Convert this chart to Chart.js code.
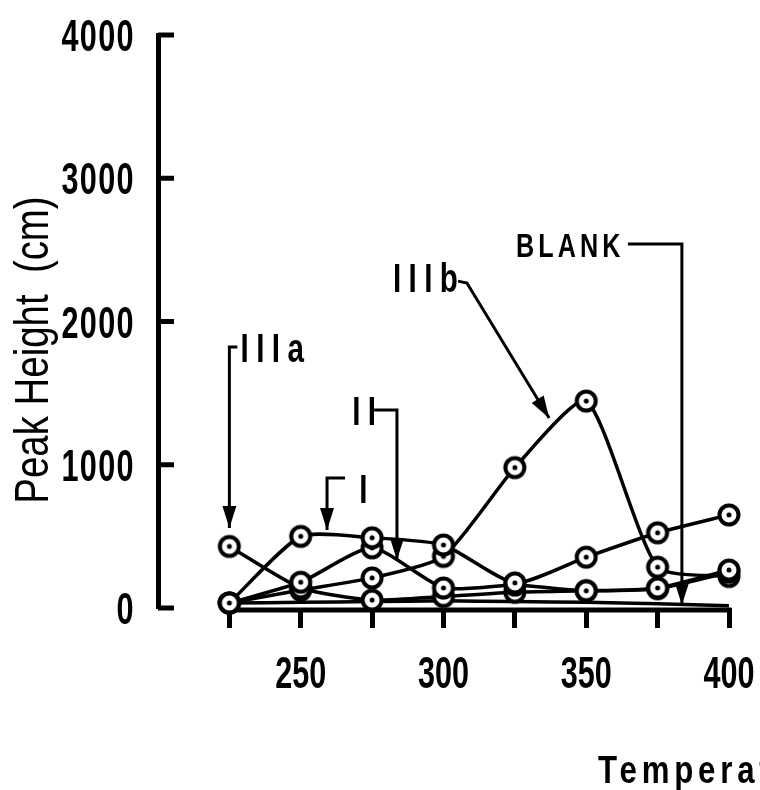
<!DOCTYPE html>
<html>
<head>
<meta charset="utf-8">
<script src="https://cdn.jsdelivr.net/npm/chart.js@4.4.1/dist/chart.umd.min.js"></script>
<style>
  html, body { margin: 0; padding: 0; background: #fff; }
  canvas { display: block; }
</style>
</head>
<body>
<canvas id="chart" width="760" height="790"></canvas>
<script>
// data
const temps = [225, 250, 275, 300, 325, 350, 375, 400];
const peakI = [35, 500, 490, 440, 175, 355, 525, 650];
const peakII = [35, 180, 420, 140, 160, 120, 140, 265];
const peakIIIa = [430, 140, 55, 80, 110, 120, 135, 250];
const peakIIIb = [35, 125, 210, 360, 980, 1445, 285, 220];
const peakBlank = [35, 40, 45, 50, 45, 40, 30, 15];
const yTicks = [0, 1000, 2000, 3000, 4000];
const xTickLabels = [250, 300, 350, 400];

const FONT = "'Liberation Sans', Arial, sans-serif";

// label + arrow callouts, in data units
const callouts = [
  { text: 'IIIa', at: [228.9, 1717], path: [[227.8, 1822], [225, 1822], [225, 558]] },
  { text: 'I', at: [270.5, 733], path: [[265.5, 907], [259.2, 907], [259.2, 545]] },
  { text: 'II', at: [268, 1277], path: [[275.7, 1382], [283.7, 1382], [283.7, 335]] },
  { text: 'IIIb', at: [282.3, 2206], path: [[305.1, 2282], [308.2, 2269], [337, 1326]] },
  { text: 'BLANK', at: [325.4, 2450], path: [[364.6, 2541], [383.5, 2541], [383.5, 21]] }
];

// circle with a dot in the middle
function makeMarker() {
  const c = document.createElement('canvas');
  c.width = 28; c.height = 28;
  const g = c.getContext('2d');
  g.beginPath();
  g.arc(14, 14, 9.5, 0, Math.PI * 2);
  g.fillStyle = '#fff';
  g.fill();
  g.lineWidth = 4;
  g.strokeStyle = '#000';
  g.stroke();
  g.beginPath();
  g.arc(14, 14, 2.5, 0, Math.PI * 2);
  g.fillStyle = '#000';
  g.fill();
  return c;
}
const marker = makeMarker();

function toPoints(values) {
  return temps.map((t, i) => ({ x: t, y: values[i] }));
}

function series(label, values, withMarkers) {
  return {
    label: label,
    data: toPoints(values),
    borderColor: '#000',
    borderWidth: 3.5,
    tension: 0.2,
    pointStyle: withMarkers ? marker : false,
    pointRadius: withMarkers ? 11 : 0,
    clip: false
  };
}

// condensed text: squeeze the glyphs horizontally
function squeezed(ctx, text, px, py, font, sx, spacing, align) {
  ctx.save();
  ctx.translate(px, py);
  ctx.scale(sx, 1);
  ctx.font = font;
  ctx.letterSpacing = spacing + 'px';
  ctx.textAlign = align || 'left';
  ctx.textBaseline = 'alphabetic';
  ctx.fillText(text, 0, 0);
  ctx.restore();
}

function drawArrow(ctx, pts) {
  ctx.beginPath();
  ctx.moveTo(pts[0][0], pts[0][1]);
  for (let i = 1; i < pts.length; i++) ctx.lineTo(pts[i][0], pts[i][1]);
  ctx.stroke();
  const [x1, y1] = pts[pts.length - 2];
  const [x2, y2] = pts[pts.length - 1];
  const a = Math.atan2(y2 - y1, x2 - x1);
  const len = 22, half = 7;
  ctx.beginPath();
  ctx.moveTo(x2, y2);
  ctx.lineTo(x2 - len * Math.cos(a) + half * Math.sin(a), y2 - len * Math.sin(a) - half * Math.cos(a));
  ctx.lineTo(x2 - len * Math.cos(a) - half * Math.sin(a), y2 - len * Math.sin(a) + half * Math.cos(a));
  ctx.closePath();
  ctx.fill();
}

const decorations = {
  id: 'decorations',
  beforeDatasetsDraw(chart) {
    const { ctx, chartArea, scales: { x, y } } = chart;
    ctx.save();
    ctx.strokeStyle = '#000';
    ctx.lineWidth = 5;
    // x axis base line, only over the measured range
    ctx.beginPath();
    ctx.moveTo(x.getPixelForValue(temps[0]) - 2.5, chartArea.bottom + 2);
    ctx.lineTo(x.getPixelForValue(temps[temps.length - 1]) + 2.5, chartArea.bottom + 2);
    ctx.stroke();
    // y ticks point inwards
    yTicks.forEach(v => {
      const py = y.getPixelForValue(v);
      ctx.beginPath();
      ctx.moveTo(chartArea.left, py);
      ctx.lineTo(chartArea.left + 16, py);
      ctx.stroke();
    });
    ctx.restore();
  },
  afterDraw(chart) {
    const { ctx, chartArea, scales: { x, y } } = chart;
    ctx.save();
    ctx.fillStyle = '#000';
    ctx.strokeStyle = '#000';
    ctx.lineWidth = 3;

    // tick labels (condensed bold), placed by the scales
    const tickFont = 'bold 45px ' + FONT;
    y.ticks.forEach(t => {
      squeezed(ctx, String(t.value), chartArea.left - 23, y.getPixelForValue(t.value) + 16, tickFont, 0.68, 2, 'right');
    });
    x.ticks.forEach(t => {
      if (!xTickLabels.includes(t.value)) return;
      squeezed(ctx, String(t.value), x.getPixelForValue(t.value), chartArea.bottom + 80, tickFont, 0.68, 0, 'center');
    });

    callouts.forEach(c => {
      const spacing = c.text === 'BLANK' ? 5.5 : 10;
      const size = c.text === 'BLANK' ? 34 : 40;
      squeezed(ctx, c.text, x.getPixelForValue(c.at[0]), y.getPixelForValue(c.at[1]),
        'bold ' + size + 'px ' + FONT, 0.74, spacing, 'left');
      drawArrow(ctx, c.path.map(p => [x.getPixelForValue(p[0]), y.getPixelForValue(p[1])]));
    });

    // axis titles
    ctx.save();
    ctx.translate(48, 350);
    ctx.rotate(-Math.PI / 2);
    ctx.scale(0.8, 1);
    ctx.font = '48px ' + FONT;
    ctx.textAlign = 'center';
    ctx.textBaseline = 'alphabetic';
    ctx.fillText('Peak Height  (cm)', 0, 0);
    ctx.restore();

    squeezed(ctx, 'Temperature (°C)', 598, 783, 'bold 39px ' + FONT, 0.8, 6, 'left');
    ctx.restore();
  }
};

new Chart(document.getElementById('chart'), {
  type: 'line',
  data: {
    datasets: [
      series('I', peakI, true),
      series('II', peakII, true),
      series('IIIa', peakIIIa, true),
      series('IIIb', peakIIIb, true),
      series('BLANK', peakBlank, false)
    ]
  },
  options: {
    responsive: false,
    animation: false,
    devicePixelRatio: 1,
    layout: { padding: { top: 35, right: 31, left: 0, bottom: 0 } },
    plugins: {
      legend: { display: false },
      tooltip: { enabled: false }
    },
    scales: {
      x: {
        type: 'linear',
        min: 200,
        max: 400,
        afterFit: s => { s.height = 182; s.paddingLeft = 0; s.paddingRight = 0; },
        afterBuildTicks: s => { s.ticks = [200, ...temps].map(v => ({ value: v })); },
        border: { display: false },
        grid: {
          drawOnChartArea: false,
          drawTicks: true,
          tickLength: 20,
          lineWidth: 5,
          color: ctx => (ctx.tick && ctx.tick.value >= temps[0]) ? '#000' : 'rgba(0,0,0,0)'
        },
        ticks: { display: false, autoSkip: false }
      },
      y: {
        min: 0,
        max: 4000,
        afterFit: s => { s.width = 158; s.paddingTop = 0; s.paddingBottom = 0; },
        afterBuildTicks: s => { s.ticks = yTicks.map(v => ({ value: v })); },
        border: { display: true, color: '#000', width: 5 },
        grid: { display: false, drawTicks: false },
        ticks: { display: false }
      }
    }
  },
  plugins: [decorations]
});
</script>
</body>
</html>
